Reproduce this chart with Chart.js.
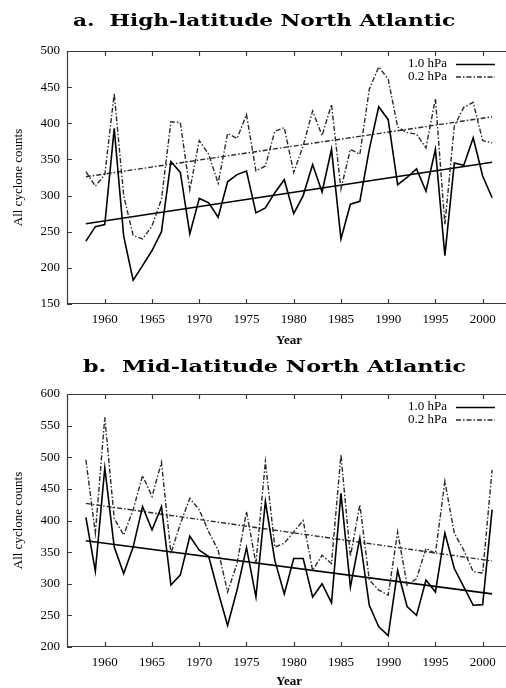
<!DOCTYPE html>
<html>
<head>
<meta charset="utf-8">
<script src="https://cdn.jsdelivr.net/npm/chart.js@4.4.0/dist/chart.umd.min.js"></script>
<style>
html, body { margin:0; padding:0; background:#fff; overflow:hidden; width:506px; height:688px; }
.panel { position:absolute; left:0; }
.ttl { position:absolute; font-family:'DejaVu Serif', serif; font-weight:bold; font-size:17px; line-height:17px; white-space:nowrap; color:#000; transform-origin:0 0; }
</style>
</head>
<body>
<div class="panel" style="top:0"><canvas id="chartA" width="511" height="347"></canvas></div>
<div class="panel" style="top:343px"><canvas id="chartB" width="511" height="345"></canvas></div>
<div class="ttl" id="titleA" style="left:73px; top:12px">a.&nbsp; High-latitude North Atlantic</div>
<div class="ttl" id="titleB" style="left:83px; top:358px">b.&nbsp; Mid-latitude North Atlantic</div>
<script>
var years = [1958, 1959, 1960, 1961, 1962, 1963, 1964, 1965, 1966, 1967,
             1968, 1969, 1970, 1971, 1972, 1973, 1974, 1975, 1976, 1977,
             1978, 1979, 1980, 1981, 1982, 1983, 1984, 1985, 1986, 1987,
             1988, 1989, 1990, 1991, 1992, 1993, 1994, 1995, 1996, 1997,
             1998, 1999, 2000, 2001];

// a. High-latitude
var highP10 = [237, 257, 260, 393, 244, 183, 203, 224, 250, 347,
               332, 247, 296, 290, 270, 319, 329, 334, 276, 283,
               304, 322, 275, 300, 343, 305, 364, 240, 288, 292,
               364, 423, 405, 315, 325, 337, 306, 364, 217, 345,
               342, 380, 327, 297];
var highP02 = [333, 313, 329, 441, 300, 245, 240, 258, 295, 402,
               401, 308, 376, 357, 317, 386, 379, 412, 334, 341,
               389, 394, 332, 369, 417, 383, 426, 309, 364, 357,
               447, 478, 461, 395, 387, 385, 366, 434, 260, 396,
               422, 429, 376, 373];
// b. Mid-latitude
var midP10 = [405, 320, 483, 358, 316, 358, 422, 385, 422, 298,
              314, 375, 353, 343, 287, 234, 290, 357, 279, 430,
              337, 284, 340, 340, 279, 300, 270, 443, 295, 372,
              266, 232, 218, 321, 264, 250, 306, 287, 380, 324,
              295, 266, 267, 417];
var midP02 = [496, 380, 563, 403, 377, 417, 471, 438, 492, 348,
              395, 435, 417, 382, 353, 287, 332, 414, 332, 493,
              358, 364, 382, 400, 321, 345, 332, 504, 343, 425,
              306, 290, 282, 382, 298, 308, 356, 348, 462, 380,
              353, 319, 317, 480];

// trend line end values (1958, 2001)
var trendYears = [1958, 2001];
var highTrend10 = [261, 346];
var highTrend02 = [326, 409];
var midTrend10 = [368, 284];
var midTrend02 = [427, 336];

var xTicks = [1960, 1965, 1970, 1975, 1980, 1985, 1990, 1995, 2000];
var highYTicks = [150, 200, 250, 300, 350, 400, 450, 500];
var midYTicks = [200, 250, 300, 350, 400, 450, 500, 550, 600];

var solidStyle = { borderColor: '#000', borderWidth: 1.6, borderDash: [] };
var dashStyle = { borderColor: '#2a2a2a', borderWidth: 1.4, borderDash: [5, 2, 1.5, 2] };

function pts(xs, ys) {
    return xs.map(function (x, i) { return { x: x, y: ys[i] }; });
}

// box, inward ticks and the legend in the top right corner
var framePlugin = {
    id: 'frame',
    afterDatasetsDraw: function (chart) {
        var ctx = chart.ctx, a = chart.chartArea;
        var x = chart.scales.x, y = chart.scales.y;
        ctx.save();
        ctx.strokeStyle = '#3a3a3a';
        ctx.lineWidth = 1.2;
        ctx.beginPath();
        ctx.moveTo(a.right, a.top + 0.5);
        ctx.lineTo(a.left + 0.5, a.top + 0.5);
        ctx.lineTo(a.left + 0.5, a.bottom - 0.5);
        ctx.lineTo(a.right, a.bottom - 0.5);
        x.ticks.forEach(function (t) {
            var px = Math.round(x.getPixelForValue(t.value)) + 0.5;
            ctx.moveTo(px, a.bottom); ctx.lineTo(px, a.bottom - 5);
            ctx.moveTo(px, a.top); ctx.lineTo(px, a.top + 5);
        });
        y.ticks.forEach(function (t) {
            var py = Math.round(y.getPixelForValue(t.value)) + 0.5;
            ctx.moveTo(a.left, py); ctx.lineTo(a.left + 5, py);
        });
        ctx.stroke();

        // legend
        ctx.font = '13px "Liberation Serif"';
        ctx.fillStyle = '#000';
        ctx.textAlign = 'right';
        ctx.textBaseline = 'middle';
        var row = 0;
        chart.data.datasets.forEach(function (ds) {
            if (!ds.label) return;
            var ly = a.top + 13 + row * 12.5;
            ctx.fillText(ds.label, 447, ly);
            ctx.strokeStyle = ds.borderColor;
            ctx.lineWidth = ds.borderWidth;
            ctx.setLineDash(ds.borderDash);
            ctx.beginPath();
            ctx.moveTo(456, ly + 0.5);
            ctx.lineTo(495, ly + 0.5);
            ctx.stroke();
            ctx.setLineDash([]);
            row++;
        });
        ctx.restore();
    }
};

function makeChart(id, p10, p02, t10, t02, yMin, yMax, yTicks, axisH) {
    var ctx = document.getElementById(id);
    return new Chart(ctx, {
        type: 'line',
        data: {
            datasets: [
                Object.assign({ label: '1.0 hPa', data: pts(years, p10) }, solidStyle),
                Object.assign({ label: '0.2 hPa', data: pts(years, p02) }, dashStyle),
                Object.assign({ label: '', data: pts(trendYears, t10) }, solidStyle),
                Object.assign({ label: '', data: pts(trendYears, t02) }, dashStyle)
            ]
        },
        options: {
            responsive: false,
            animation: false,
            devicePixelRatio: 1,
            layout: { padding: { top: 51, left: 0, right: 0, bottom: 0 } },
            elements: { point: { radius: 0 }, line: { tension: 0, fill: false } },
            plugins: {
                legend: { display: false },
                title: { display: false },
                tooltip: { enabled: false }
            },
            scales: {
                x: {
                    type: 'linear',
                    min: 1956,
                    max: 2003,
                    grid: { display: false, drawTicks: false },
                    border: { display: false },
                    afterBuildTicks: function (s) { s.ticks = xTicks.map(function (v) { return { value: v }; }); },
                    afterFit: function (s) { s.height = axisH; },
                    ticks: {
                        padding: 8,
                        color: '#000',
                        font: { family: 'Liberation Serif', size: 13 },
                        callback: function (v) { return String(v); }
                    },
                    title: {
                        display: true,
                        text: 'Year',
                        color: '#000',
                        padding: 0,
                        font: { family: 'Liberation Serif', size: 13, weight: 'bold', lineHeight: 1 }
                    }
                },
                y: {
                    min: yMin,
                    max: yMax,
                    grid: { display: false, drawTicks: false },
                    border: { display: false },
                    afterBuildTicks: function (s) { s.ticks = yTicks.map(function (v) { return { value: v }; }); },
                    afterFit: function (s) { s.width = 67; },
                    ticks: {
                        padding: 7,
                        color: '#000',
                        font: { family: 'Liberation Serif', size: 13 },
                        callback: function (v) { return String(v); }
                    },
                    title: {
                        display: true,
                        text: 'All cyclone counts',
                        color: '#000',
                        padding: { top: 11, bottom: 0 },
                        font: { family: 'Liberation Serif', size: 13 }
                    }
                }
            }
        },
        plugins: [framePlugin]
    });
}

makeChart('chartA', highP10, highP02, highTrend10, highTrend02, 150, 500, highYTicks, 43);
makeChart('chartB', midP10, midP02, midTrend10, midTrend02, 200, 600, midYTicks, 41);

// the figure uses an extended bold face: stretch the titles to its width
function fitTitle(id, w) {
    var el = document.getElementById(id);
    var cur = el.getBoundingClientRect().width;
    el.style.transform = 'scaleX(' + (w / cur).toFixed(3) + ')';
}
fitTitle('titleA', 382);
fitTitle('titleB', 383);
</script>
</body>
</html>
